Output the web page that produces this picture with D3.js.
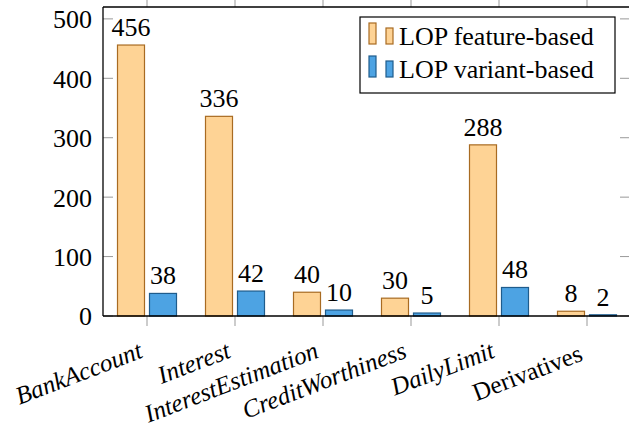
<!DOCTYPE html>
<html>
<head>
<meta charset="utf-8">
<script src="https://cdn.jsdelivr.net/npm/d3@7"></script>
</head>
<body style="margin:0">
<svg id="chart" width="629" height="423" style="display:block"></svg>
<script>
// ---- data ----
const categories = ["BankAccount", "Interest", "InterestEstimation", "CreditWorthiness", "DailyLimit", "Derivatives"];
const featureBased = [456, 336, 40, 30, 288, 8];
const variantBased = [38, 42, 10, 5, 48, 2];
const seriesNames = ["LOP feature-based", "LOP variant-based"];
const yTicks = [0, 100, 200, 300, 400, 500];
const uprightLabels = new Set(["Derivatives"]);

// ---- layout ----
const FONT = "'Liberation Serif', monospace";
const plotLeft = 103, plotRight = 631, plotTop = 7, plotBottom = 316;
const svg = d3.select("#chart");

const x = d3.scalePoint().domain(categories).range([plotLeft + 44, plotRight - 44]);
const y = d3.scaleLinear().domain([0, 520]).range([plotBottom, plotTop]);

const colors = [
  { fill: "#FED395", stroke: "#A86B22" },
  { fill: "#4DA3E3", stroke: "#1F5C8C" }
];
const barW = 27, off = 16;

// top ticks (outward, above frame)
svg.append("g").selectAll("line").data(categories).join("line")
  .attr("x1", d => x(d)).attr("x2", d => x(d))
  .attr("y1", 0).attr("y2", plotTop)
  .attr("stroke", "#999").attr("stroke-width", 1);

// bottom ticks
svg.append("g").selectAll("line").data(categories).join("line")
  .attr("x1", d => x(d)).attr("x2", d => x(d))
  .attr("y1", plotBottom).attr("y2", plotBottom + 10)
  .attr("stroke", "#999").attr("stroke-width", 1);

// left/right ticks (inward)
svg.append("g").selectAll("line").data(yTicks).join("line")
  .attr("x1", plotLeft).attr("x2", plotLeft + 10)
  .attr("y1", d => y(d)).attr("y2", d => y(d))
  .attr("stroke", "#999").attr("stroke-width", 1);
svg.append("g").selectAll("line").data(yTicks).join("line")
  .attr("x1", plotRight - 11).attr("x2", plotRight)
  .attr("y1", d => y(d)).attr("y2", d => y(d))
  .attr("stroke", "#999").attr("stroke-width", 1);

// bars
const series = [featureBased, variantBased];
series.forEach((vals, si) => {
  const dx = si === 0 ? -off : off;
  const g = svg.append("g");
  g.selectAll("rect").data(categories).join("rect")
    .attr("x", d => x(d) + dx - barW / 2)
    .attr("y", (d, i) => y(vals[i]))
    .attr("width", barW)
    .attr("height", (d, i) => y(0) - y(vals[i]))
    .attr("fill", colors[si].fill)
    .attr("stroke", colors[si].stroke)
    .attr("stroke-width", 1.2);
  g.selectAll("text").data(categories).join("text")
    .attr("x", d => x(d) + dx)
    .attr("y", (d, i) => y(vals[i]) - 9)
    .attr("text-anchor", "middle")
    .attr("font-size", 26)
    .style("font-family", FONT)
    .attr("fill", "#000")
    .text((d, i) => vals[i]);
});

// frame
svg.append("line").attr("x1", plotLeft).attr("x2", plotLeft).attr("y1", plotTop).attr("y2", plotBottom)
  .attr("stroke", "#000").attr("stroke-width", 1.3);
svg.append("line").attr("x1", plotLeft).attr("x2", plotRight).attr("y1", plotTop).attr("y2", plotTop)
  .attr("stroke", "#000").attr("stroke-width", 1.3);
svg.append("line").attr("x1", plotLeft).attr("x2", plotRight).attr("y1", plotBottom).attr("y2", plotBottom)
  .attr("stroke", "#000").attr("stroke-width", 1.3);

// y tick labels
svg.append("g").selectAll("text").data(yTicks).join("text")
  .attr("x", plotLeft - 11)
  .attr("y", d => y(d))
  .attr("dy", "0.36em")
  .attr("text-anchor", "end")
  .attr("font-size", 26)
  .style("font-family", FONT)
  .text(d => d);

// x category labels
svg.append("g").selectAll("text").data(categories).join("text")
  .attr("transform", d => `translate(${x(d) - 3},${uprightLabels.has(d) ? 360 : 357}) rotate(-21)`)
  .attr("text-anchor", "end")
  .attr("font-size", 25)
  .style("font-family", FONT)
  .style("font-style", d => uprightLabels.has(d) ? "normal" : "italic")
  .text(d => d);

// legend
const lg = svg.append("g");
lg.append("rect").attr("x", 360).attr("y", 17).attr("width", 255).attr("height", 76)
  .attr("fill", "#fff").attr("stroke", "#000").attr("stroke-width", 1.2);
seriesNames.forEach((name, i) => {
  const by = 45 + i * 33;
  lg.append("rect").attr("x", 369).attr("y", by - 22).attr("width", 7).attr("height", 21)
    .attr("fill", colors[i].fill).attr("stroke", colors[i].stroke).attr("stroke-width", 1.2);
  lg.append("rect").attr("x", 386).attr("y", by - 17).attr("width", 7).attr("height", 16)
    .attr("fill", colors[i].fill).attr("stroke", colors[i].stroke).attr("stroke-width", 1.2);
  lg.append("text").attr("x", 399).attr("y", by).attr("font-size", 26)
    .style("font-family", FONT).text(name);
});
</script>
</body>
</html>
